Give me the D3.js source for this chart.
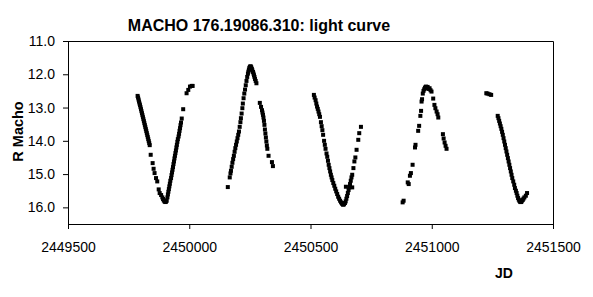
<!DOCTYPE html>
<html>
<head>
<meta charset="utf-8">
<script src="https://cdn.jsdelivr.net/npm/d3@7"></script>
<style>
  html, body { margin: 0; padding: 0; background: #fff; }
  svg { display: block; }
  text { font-family: "Liberation Sans", Arial, sans-serif; }
</style>
</head>
<body>
<svg id="chart" width="593" height="297"></svg>
<script>
// ---- Data ----
const title = "MACHO 176.19086.310: light curve";
const yLabel = "R Macho";
const xLabel = "JD";
const xTicks = [2449500, 2450000, 2450500, 2451000, 2451500];
const yTicks = [11, 12, 13, 14, 15, 16];

// [JD, R magnitude]
const season1 = [
  [2449787,12.65],[2449789,12.70],[2449791,12.76],[2449793,12.82],[2449795,12.88],[2449797,12.93],
  [2449799,12.99],[2449801,13.05],[2449803,13.11],[2449805,13.17],[2449807,13.23],[2449809,13.29],
  [2449811,13.35],[2449813,13.41],[2449815,13.47],[2449817,13.53],[2449819,13.59],[2449821,13.65],
  [2449823,13.71],[2449825,13.77],[2449827,13.83],[2449829,13.89],[2449831,13.95],[2449833,14.01],
  [2449835,14.07],[2449837,14.13],[2449841,14.42],[2449849,14.67],[2449853,14.84],[2449857,14.97],
  [2449863,15.12],[2449868,15.22],[2449874,15.46],[2449878,15.57],[2449884,15.63],[2449889,15.70],
  [2449892,15.75],[2449895,15.79],[2449898,15.82],[2449901,15.84],[2449904,15.83],[2449907,15.80],
  [2449910,15.70],[2449912,15.61],[2449914,15.53],[2449916,15.45],[2449918,15.37],[2449920,15.29],
  [2449922,15.20],[2449925,15.12],[2449927,15.03],[2449929,14.95],[2449931,14.87],[2449933,14.79],
  [2449935,14.70],[2449937,14.62],[2449939,14.53],[2449941,14.45],[2449943,14.37],[2449945,14.29],
  [2449947,14.20],[2449949,14.12],[2449951,14.03],[2449953,13.95],[2449956,13.87],[2449958,13.79],
  [2449960,13.70],[2449962,13.62],[2449964,13.53],[2449966,13.45],[2449969,13.33],[2449975,13.05],
  [2449989,12.57],[2449996,12.47],[2450003,12.37],[2450010,12.35],[2450014,12.35]
];
const season2 = [
  [2450159,15.39],[2450167,15.10],[2450170,14.98],[2450172,14.90],[2450175,14.78],[2450178,14.66],
  [2450181,14.55],[2450184,14.45],[2450187,14.33],[2450190,14.22],[2450193,14.12],[2450196,14.02],
  [2450199,13.92],[2450202,13.82],[2450205,13.72],[2450208,13.58],[2450211,13.44],[2450213,13.32],
  [2450216,13.18],[2450219,13.02],[2450221,12.88],[2450224,12.72],[2450227,12.58],[2450230,12.46],
  [2450233,12.33],[2450236,12.20],[2450239,12.08],[2450242,11.98],[2450244,11.92],[2450246,11.86],
  [2450248,11.81],[2450250,11.78],[2450252,11.76],[2450254,11.77],[2450256,11.80],[2450258,11.84],
  [2450260,11.88],[2450263,11.93],[2450265,11.98],[2450267,12.03],[2450269,12.08],[2450271,12.14],
  [2450274,12.20],[2450277,12.27],[2450291,12.86],[2450296,12.98],[2450300,13.08],[2450302,13.15],
  [2450304,13.22],[2450306,13.30],[2450308,13.40],[2450310,13.52],[2450312,13.66],[2450314,13.78],
  [2450316,13.90],[2450318,14.02],[2450320,14.14],[2450322,14.24],[2450327,14.45],[2450341,14.64],
  [2450345,14.76]
];
const season3 = [
  [2450514,12.62],[2450517,12.70],[2450521,12.78],[2450524,12.88],[2450527,12.97],[2450530,13.04],
  [2450533,13.12],[2450536,13.20],[2450539,13.28],[2450543,13.44],[2450546,13.56],[2450549,13.68],
  [2450552,13.82],[2450556,14.00],[2450559,14.12],[2450562,14.24],[2450566,14.38],[2450569,14.48],
  [2450572,14.60],[2450575,14.72],[2450578,14.82],[2450581,14.92],[2450584,15.02],[2450587,15.10],
  [2450590,15.18],[2450594,15.27],[2450598,15.35],[2450602,15.44],[2450606,15.52],[2450610,15.60],
  [2450614,15.68],[2450618,15.74],[2450622,15.80],[2450626,15.85],[2450630,15.89],[2450634,15.92],
  [2450638,15.91],[2450642,15.87],[2450645,15.82],[2450648,15.74],[2450651,15.66],[2450654,15.57],
  [2450657,15.48],[2450660,15.40],[2450663,15.30],[2450666,15.20],[2450669,15.10],[2450672,15.02],
  [2450646,15.38],[2450672,15.40],[2450677,14.82],[2450681,14.62],[2450685,14.50],[2450690,14.27],
  [2450697,13.97],[2450701,13.77],[2450708,13.58]
];
const season4 = [
  [2450880,15.85],[2450884,15.80],[2450901,15.25],[2450905,15.30],[2450910,15.05],[2450914,14.97],
  [2450921,14.72],[2450931,14.20],[2450933,14.12],[2450944,13.70],[2450948,13.55],[2450953,13.25],
  [2450956,13.10],[2450958,12.82],[2450960,12.75],[2450963,12.58],[2450966,12.50],[2450969,12.45],
  [2450972,12.40],[2450976,12.37],[2450979,12.42],[2450983,12.38],[2450987,12.44],[2450991,12.42],
  [2450995,12.48],[2450999,12.52],[2451006,12.73],[2451011,12.92],[2451015,13.02],[2451020,13.12],
  [2451024,13.20],[2451027,13.30],[2451046,13.80],[2451049,13.93],[2451053,14.05],[2451057,14.15],
  [2451061,14.24]
];
const season5 = [
  [2451225,12.57],[2451230,12.58],[2451238,12.60],[2451245,12.62],[2451272,13.25],[2451275,13.32],
  [2451278,13.40],[2451281,13.48],[2451284,13.56],[2451287,13.64],[2451290,13.73],[2451293,13.82],
  [2451296,13.92],[2451299,14.02],[2451302,14.12],[2451305,14.22],[2451308,14.32],[2451311,14.42],
  [2451314,14.52],[2451317,14.62],[2451320,14.72],[2451323,14.82],[2451326,14.92],[2451329,15.02],
  [2451332,15.12],[2451336,15.22],[2451340,15.32],[2451343,15.42],[2451347,15.50],[2451350,15.57],
  [2451353,15.65],[2451356,15.72],[2451359,15.77],[2451362,15.81],[2451365,15.84],[2451368,15.84],
  [2451371,15.82],[2451375,15.78],[2451378,15.74],[2451382,15.70],[2451388,15.65],[2451393,15.57]
];

// ---- Layout ----
const svg = d3.select("#chart");
const plot = { left: 68, right: 553, top: 41, bottom: 224 };

const x = d3.scaleLinear().domain([2449500, 2451500]).range([plot.left, plot.right]);
const y = d3.scaleLinear().domain([11, 16.5]).range([plot.top, plot.bottom]);

// plot border (top & right)
svg.append("path")
  .attr("d", `M${plot.left},${plot.top + 0.5}H${plot.right + 0.5}V${plot.bottom}`)
  .attr("fill", "none").attr("stroke", "#000").attr("stroke-width", 1);

// axes
const yAxis = svg.append("g")
  .attr("transform", `translate(${plot.left},0)`)
  .call(d3.axisLeft(y).tickValues(yTicks).tickFormat(d3.format(".1f"))
        .tickSize(5).tickSizeOuter(0).tickPadding(8));
const xAxis = svg.append("g")
  .attr("transform", `translate(0,${plot.bottom})`)
  .call(d3.axisBottom(x).tickValues(xTicks).tickFormat(d3.format("d"))
        .tickSize(5).tickSizeOuter(0).tickPadding(13));
[yAxis, xAxis].forEach(g => {
  g.selectAll("text").attr("font-size", 14).attr("fill", "#000")
    .style("font-family", '"Liberation Sans", Arial, sans-serif');
  g.selectAll("line, path").attr("stroke", "#000");
});

// points
const all = [...season1, ...season2, ...season3, ...season4, ...season5];
const s = 4;
svg.append("g").selectAll("rect").data(all).join("rect")
  .attr("x", d => x(d[0]) - s / 2)
  .attr("y", d => y(d[1]) - s / 2)
  .attr("width", s).attr("height", s)
  .attr("fill", "#000");

// title & labels
svg.append("text").attr("x", 259).attr("y", 31).attr("text-anchor", "middle")
  .attr("font-size", 16).attr("font-weight", "bold").text(title);
svg.append("text").attr("transform", "translate(23,131.5) rotate(-90)")
  .attr("text-anchor", "middle").attr("font-size", 14.5).attr("font-weight", "bold").text(yLabel);
svg.append("text").attr("x", 504).attr("y", 278).attr("text-anchor", "middle")
  .attr("font-size", 14).attr("font-weight", "bold").text(xLabel);
</script>
</body>
</html>
